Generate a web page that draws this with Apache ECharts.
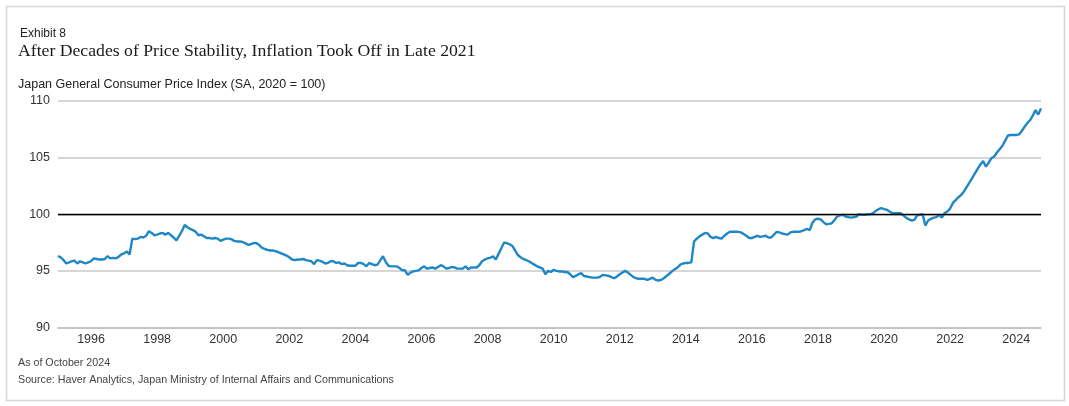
<!DOCTYPE html>
<html>
<head>
<meta charset="utf-8">
<script src="https://cdn.jsdelivr.net/npm/echarts@6/dist/echarts.min.js"></script>
<style>
  html, body { margin: 0; padding: 0; background: #ffffff; }
  #chart { width: 1069px; height: 406px; }
</style>
</head>
<body>
<div id="chart"></div>
<script>
// Japan General CPI (SA, 2020 = 100), monthly, Jan 1995 – Oct 2024
const y1995 = [96.3, 96.2, 95.95, 95.65, 95.75, 95.85, 95.9, 95.65, 95.85, 95.75, 95.65, 95.75];
const y1996 = [95.85, 96.1, 96.05, 96.0, 96.0, 96.05, 96.3, 96.1, 96.15, 96.1, 96.25, 96.45];
const y1997 = [96.55, 96.7, 96.45, 97.85, 97.8, 97.85, 98.0, 97.95, 98.1, 98.5, 98.35, 98.15];
const y1998 = [98.2, 98.3, 98.35, 98.2, 98.35, 98.15, 97.95, 97.7, 98.1, 98.5, 99.05, 98.85];
const y1999 = [98.7, 98.6, 98.45, 98.15, 98.2, 98.05, 97.9, 97.9, 97.85, 97.9, 97.85, 97.65];
const y2000 = [97.75, 97.85, 97.85, 97.8, 97.65, 97.6, 97.6, 97.55, 97.45, 97.3, 97.35, 97.45];
const y2001 = [97.45, 97.3, 97.05, 96.95, 96.85, 96.8, 96.8, 96.75, 96.65, 96.55, 96.45, 96.35];
const y2002 = [96.2, 96.0, 95.95, 96.0, 96.0, 96.05, 95.95, 95.9, 95.85, 95.6, 95.95, 95.9];
const y2003 = [95.8, 95.65, 95.7, 95.85, 95.85, 95.7, 95.75, 95.6, 95.65, 95.5, 95.45, 95.45];
const y2004 = [95.45, 95.7, 95.7, 95.6, 95.4, 95.7, 95.6, 95.5, 95.55, 95.9, 96.3, 95.8];
const y2005 = [95.45, 95.4, 95.4, 95.4, 95.25, 95.05, 95.05, 94.65, 94.85, 94.95, 95.0, 95.05];
const y2006 = [95.25, 95.4, 95.2, 95.25, 95.3, 95.2, 95.35, 95.5, 95.4, 95.2, 95.25, 95.35];
const y2007 = [95.3, 95.2, 95.2, 95.2, 95.4, 95.15, 95.3, 95.3, 95.3, 95.5, 95.85, 96.0];
const y2008 = [96.1, 96.15, 96.3, 96.0, 96.5, 97.0, 97.5, 97.45, 97.35, 97.2, 96.8, 96.4];
const y2009 = [96.2, 96.05, 95.95, 95.85, 95.7, 95.55, 95.4, 95.3, 95.2, 94.7, 95.0, 94.9];
const y2010 = [95.1, 95.0, 94.95, 94.95, 94.9, 94.9, 94.7, 94.45, 94.55, 94.7, 94.8, 94.55];
const y2011 = [94.5, 94.45, 94.4, 94.4, 94.4, 94.5, 94.65, 94.6, 94.55, 94.45, 94.35, 94.5];
const y2012 = [94.7, 94.85, 95.0, 94.85, 94.65, 94.45, 94.35, 94.3, 94.3, 94.3, 94.2, 94.3];
const y2013 = [94.4, 94.2, 94.15, 94.2, 94.35, 94.55, 94.75, 94.95, 95.15, 95.3, 95.55, 95.65];
const y2014 = [95.7, 95.7, 95.75, 97.6, 97.85, 98.05, 98.2, 98.35, 98.3, 98.0, 97.9, 98.0];
const y2015 = [97.9, 97.85, 98.1, 98.3, 98.45, 98.45, 98.45, 98.45, 98.4, 98.25, 98.1, 97.9];
const y2016 = [97.9, 98.0, 98.1, 98.0, 98.05, 98.1, 97.95, 97.95, 98.2, 98.45, 98.4, 98.3];
const y2017 = [98.25, 98.2, 98.4, 98.45, 98.45, 98.45, 98.5, 98.6, 98.7, 98.6, 99.25, 99.55];
const y2018 = [99.6, 99.55, 99.3, 99.1, 99.15, 99.2, 99.5, 99.8, 99.9, 99.95, 99.8, 99.75];
const y2019 = [99.7, 99.75, 99.8, 100.0, 99.95, 99.95, 100.0, 100.0, 100.1, 100.3, 100.45, 100.55];
const y2020 = [100.45, 100.4, 100.25, 100.1, 100.1, 100.1, 100.1, 99.9, 99.7, 99.55, 99.45, 99.5];
const y2021 = [99.9, 99.95, 100.0, 99.0, 99.45, 99.6, 99.7, 99.75, 99.95, 99.7, 100.1, 100.25];
const y2022 = [100.5, 101.0, 101.25, 101.5, 101.7, 102.0, 102.4, 102.8, 103.2, 103.6, 104.0, 104.4];
const y2023 = [104.7, 104.2, 104.55, 104.95, 105.1, 105.45, 105.75, 106.05, 106.5, 106.95, 107.0, 107.0];
const y2024 = [107.0, 107.05, 107.35, 107.7, 108.05, 108.3, 108.7, 109.2, 108.8, 109.35];

const startYear = 1995;
const yearly = [y1995, y1996, y1997, y1998, y1999, y2000, y2001, y2002, y2003, y2004,
                y2005, y2006, y2007, y2008, y2009, y2010, y2011, y2012, y2013, y2014,
                y2015, y2016, y2017, y2018, y2019, y2020, y2021, y2022, y2023, y2024];

const xTickYears = ['1996','1998','2000','2002','2004','2006','2008','2010','2012','2014','2016','2018','2020','2022','2024'];
const yMin = 90, yMax = 110, yStep = 5;
const refLevel = 100;

const categories = [];
const values = [];
yearly.forEach((arr, i) => {
  arr.forEach((v, m) => {
    categories.push((startYear + i) + '-' + String(m + 1).padStart(2, '0'));
    values.push(v);
  });
});

const chart = echarts.init(document.getElementById('chart'), null, { renderer: 'canvas' });
const sans = 'Liberation Sans, Arial, sans-serif';

chart.setOption({
  animation: false,
  backgroundColor: '#ffffff',
  graphic: [
    { type: 'rect', left: 4, top: 4, shape: { width: 1058, height: 394 },
      style: { fill: 'none', stroke: '#d6d6d6', lineWidth: 1.5 }, silent: true, z: -1 }
  ],
  title: [
    { text: 'Exhibit 8', left: 20, top: 27, padding: 0,
      textStyle: { fontFamily: sans, fontSize: 12, fontWeight: 'normal', color: '#222', lineHeight: 14 } },
    { text: 'After Decades of Price Stability, Inflation Took Off in Late 2021', left: 18, top: 41, padding: 0,
      textStyle: { fontFamily: 'Liberation Serif, Times New Roman, serif', fontSize: 17.7, fontWeight: 'normal', color: '#1a1a1a', lineHeight: 20 } },
    { text: 'Japan General Consumer Price Index (SA, 2020 = 100)', left: 18, top: 77, padding: 0,
      textStyle: { fontFamily: sans, fontSize: 12.5, fontWeight: 'normal', color: '#222', lineHeight: 15 } },
    { text: 'As of October 2024', left: 18, top: 357, padding: 0,
      textStyle: { fontFamily: sans, fontSize: 10.7, fontWeight: 'normal', color: '#444', lineHeight: 13 } },
    { text: 'Source: Haver Analytics, Japan Ministry of Internal Affairs and Communications', left: 18, top: 374, padding: 0,
      textStyle: { fontFamily: sans, fontSize: 10.7, fontWeight: 'normal', color: '#444', lineHeight: 13 } }
  ],
  grid: { left: 58, right: 28, top: 101, bottom: 78.5, containLabel: false },
  xAxis: {
    type: 'category',
    data: categories,
    boundaryGap: false,
    axisLine: { show: true, lineStyle: { color: '#bdbdbd', width: 1.5 } },
    axisTick: { show: false },
    splitLine: { show: false },
    axisLabel: {
      fontFamily: sans, fontSize: 12.5, color: '#333', margin: 6,
      interval: (idx, val) => val.endsWith('-01') && xTickYears.includes(val.slice(0, 4)),
      formatter: (val) => val.slice(0, 4)
    }
  },
  yAxis: {
    type: 'value',
    min: yMin, max: yMax, interval: yStep,
    axisLine: { show: false },
    axisTick: { show: false },
    axisLabel: { fontFamily: sans, fontSize: 12.5, color: '#333', margin: 8 },
    splitLine: { show: true, lineStyle: { color: '#c8c8c8', width: 1.5 } }
  },
  series: [
    {
      type: 'line',
      data: [],
      silent: true,
      z: 1,
      markLine: {
        silent: true, symbol: 'none', label: { show: false },
        lineStyle: { color: '#000000', width: 1.3, type: 'solid' },
        data: [{ yAxis: refLevel }]
      }
    },
    {
      type: 'line',
      data: values,
      z: 3,
      showSymbol: false,
      symbol: 'none',
      lineStyle: { color: '#1f87c6', width: 2.4 },
      itemStyle: { color: '#1f87c6' }
    }
  ]
});
</script>
</body>
</html>
